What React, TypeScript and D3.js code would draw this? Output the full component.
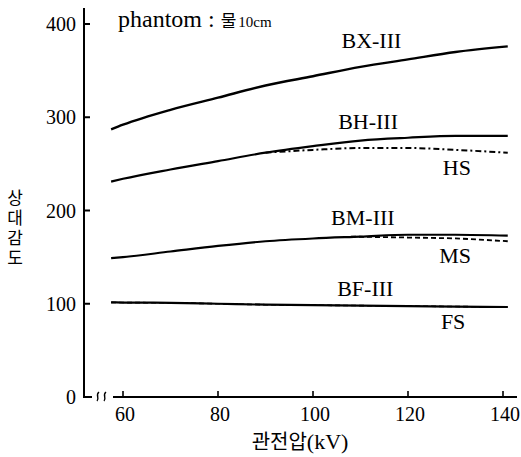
import { useEffect, useRef } from 'react'
import * as d3 from 'd3'

// tube voltage (kV) sampled along each curve
const kv = [57.5, 60, 70, 80, 90, 100, 110, 120, 130, 141]
const bxIII = [287, 292, 308, 321, 334, 344, 354, 362, 370, 376]
const bhIII = [231, 234, 244, 253, 262, 269, 275, 278, 280, 280]
const bmIII = [149, 150, 156, 162, 167, 170, 172, 174, 174, 173]
const bfIII = [101.5, 101.3, 101, 100, 99, 98.5, 98, 97.5, 97, 96.5]

const hsKv = [90, 100, 110, 120, 130, 141]
const hs = [262, 265, 267, 267, 265, 262]
const msKv = [108, 120, 130, 141]
const ms = [172, 171, 170, 167]
const fs = [101.5, 101.3, 101, 100, 99, 98.5, 98, 97.5, 97, 96.5]

const xTicks = [60, 80, 100, 120, 140]
const yTicks = [0, 100, 200, 300, 400]

// curve labels, placed in data units (kV, value)
const curveLabels = [
  { text: 'BX-III', kv: 112.3, v: 374 },
  { text: 'BH-III', kv: 111.6, v: 287 },
  { text: 'HS', kv: 130.3, v: 238 },
  { text: 'BM-III', kv: 110.5, v: 184.5 },
  { text: 'MS', kv: 129.9, v: 143.7 },
  { text: 'BF-III', kv: 111, v: 108.3 },
  { text: 'FS', kv: 129.5, v: 73 },
]

const yTitle = '상대감도'
const xTitleKr = '관전압'
const xTitleUnit = '(kV)'

const serif = '"Liberation Serif", "Times New Roman", serif'
const kr = '"Noto Sans CJK KR", sans-serif'

export default function App() {
  const svgRef = useRef<SVGSVGElement>(null)

  useEffect(() => {
    if (!svgRef.current) return
    const svg = d3.select(svgRef.current)
    svg.selectAll('*').remove()

    const width = 521
    const height = 457
    svg.attr('width', width).attr('height', height)

    const x = d3.scaleLinear().domain([60, 140]).range([123, 503])
    const y = d3.scaleLinear().domain([0, 400]).range([397, 24])
    const axisX = 84
    const baseY = y(0)

    // axes
    svg.append('line')
      .attr('x1', axisX).attr('x2', axisX)
      .attr('y1', 8).attr('y2', baseY)
      .style('stroke', '#000').style('stroke-width', 2)

    svg.append('line')
      .attr('x1', axisX - 1).attr('x2', 92)
      .attr('y1', baseY).attr('y2', baseY)
      .style('stroke', '#000').style('stroke-width', 2)

    svg.append('line')
      .attr('x1', 113).attr('x2', 517)
      .attr('y1', baseY).attr('y2', baseY)
      .style('stroke', '#000').style('stroke-width', 2)

    // axis break squiggles
    ;[97, 104].forEach(bx => {
      svg.append('path')
        .attr('d', `M${bx + 2},${baseY - 5} C${bx - 2},${baseY - 2} ${bx + 3},${baseY + 1} ${bx},${baseY + 4}`)
        .style('fill', 'none').style('stroke', '#000').style('stroke-width', 1.4)
    })

    // y ticks
    yTicks.forEach(t => {
      if (t > 0) {
        svg.append('line')
          .attr('x1', axisX).attr('x2', axisX + 6)
          .attr('y1', y(t)).attr('y2', y(t))
          .style('stroke', '#000').style('stroke-width', 2)
      }
      svg.append('text')
        .attr('x', 76).attr('y', y(t))
        .attr('dy', '0.35em')
        .attr('text-anchor', 'end')
        .style('font-family', serif).style('font-size', '20px')
        .text(t)
    })

    // x ticks
    xTicks.forEach(t => {
      svg.append('line')
        .attr('x1', x(t)).attr('x2', x(t))
        .attr('y1', baseY).attr('y2', baseY - 6)
        .style('stroke', '#000').style('stroke-width', 1.6)
      svg.append('text')
        .attr('x', x(t) + 2).attr('y', 421)
        .attr('text-anchor', 'middle')
        .style('font-family', serif).style('font-size', '20px')
        .text(t)
    })

    const line = d3.line<[number, number]>()
      .x(d => x(d[0]))
      .y(d => y(d[1]))
      .curve(d3.curveMonotoneX)

    const drawSeries = (xs: number[], vs: number[], w: number, dash?: string) => {
      svg.append('path')
        .datum(xs.map((k, i) => [k, vs[i]] as [number, number]))
        .attr('d', line)
        .style('fill', 'none')
        .style('stroke', '#000')
        .style('stroke-width', w)
        .style('stroke-dasharray', dash || 'none')
    }

    drawSeries(kv, bxIII, 2.4)
    drawSeries(kv, bhIII, 2.2)
    drawSeries(hsKv, hs, 2, '6,3,2,3')
    drawSeries(kv, bmIII, 2.2)
    drawSeries(msKv, ms, 1.8, '5,3')
    drawSeries(kv, bfIII, 2.2)
    drawSeries(kv, fs, 1.6, '5,3')

    curveLabels.forEach(l => {
      svg.append('text')
        .attr('x', x(l.kv)).attr('y', y(l.v))
        .attr('text-anchor', 'middle')
        .style('font-family', serif).style('font-size', '22px')
        .text(l.text)
    })

    // phantom note
    const note = svg.append('text')
      .attr('x', 118).attr('y', 27)
      .style('font-family', serif).style('font-size', '24px')
    note.append('tspan').text('phantom : ')
    note.append('tspan').style('font-family', kr).style('font-size', '17px').text('물')
    note.append('tspan').attr('dx', 2).style('font-size', '15px').text('10cm')

    // axis titles
    svg.append('text')
      .attr('x', 15).attr('y', 189)
      .style('font-family', kr).style('font-size', '17px')
      .style('writing-mode', 'vertical-rl')
      .style('text-orientation', 'upright')
      .style('letter-spacing', '3px')
      .text(yTitle)

    const xt = svg.append('text')
      .attr('x', 300).attr('y', 449)
      .attr('text-anchor', 'middle')
    xt.append('tspan').style('font-family', kr).style('font-size', '20px').text(xTitleKr)
    xt.append('tspan').style('font-family', serif).style('font-size', '22px').text(xTitleUnit)
  }, [])

  return (
    <svg
      ref={svgRef}
      style={{ position: 'absolute', left: 0, top: 0, display: 'block', background: '#fff' }}
    ></svg>
  )
}
